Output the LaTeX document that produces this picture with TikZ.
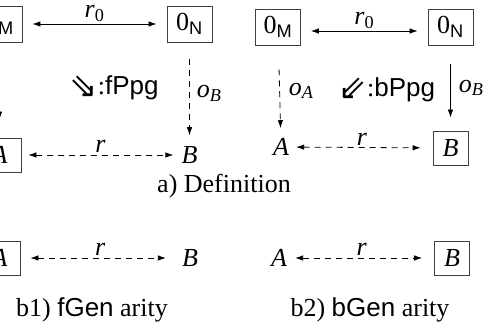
\documentclass[tikz,border=0pt]{standalone}
\usepackage{fontspec}
\setmainfont{Liberation Serif}
\setsansfont{Liberation Sans}
\newfontfamily\symfont{DejaVu Sans}
\usetikzlibrary{arrows.meta}
\newcommand\sbs[1]{\textsubscript{#1}}
\begin{document}
\begin{tikzpicture}[x=1pt,y=-1pt, font=\fontsize{26}{30}\selectfont,
  box/.style={draw=black!75, line width=0.8pt, inner sep=2pt, minimum width=45pt, minimum height=36pt},
  vbox/.style={draw=black!75, line width=0.8pt, inner sep=2pt, minimum width=35pt, minimum height=34pt},
  txt/.style={inner sep=2pt},
  lbl/.style={inner sep=1pt},
  arr/.style={line width=0.8pt, -{Latex[length=8pt,width=5.5pt]}},
  biarr/.style={line width=0.8pt, {Latex[length=8pt,width=5.5pt]}-{Latex[length=8pt,width=5.5pt]}},
  dsh/.style={dash pattern=on 6pt off 5pt}]
\useasboundingbox (0,0) rectangle (490,326);
% ---- a) left
\node[box] (mL) at (-0.5,24) {0\sbs{\sffamily M}};
\node[box] (nL) at (189.5,24) {0\sbs{\sffamily N}};
\node[vbox, minimum width=43pt] (AL) at (-0.5,155) {\itshape A};
\node[txt] (BL) at (189.5,155) {\itshape B};
\draw[biarr, shorten <=10pt, shorten >=10pt] (mL) -- (nL) node[midway, above=1pt, lbl] {\itshape r\sbs{\upshape 0}};
\draw[arr, shorten <=17pt, shorten >=18pt] (mL) -- (AL);
\draw[arr, dsh, shorten <=17pt, shorten >=9pt] (nL) -- (BL) node[midway, right=6pt, lbl] {\itshape o\sbs{B}};
\draw[biarr, dsh, shorten <=7pt, shorten >=6pt] (AL) -- (BL) node[midway, above=1pt, lbl] {\itshape r};
\node[txt] (fP) at (114,88) {\raisebox{-0.1em}{\scalebox{1.3}{\symfont ⇘}}:\textsf{fPpg}};
% ---- a) right
\node[box] (mR) at (278,27) {0\sbs{\sffamily M}};
\node[box] (nR) at (450.5,27) {0\sbs{\sffamily N}};
\node[txt] (AR) at (281,147) {\itshape A};
\node[vbox] (BR) at (450.5,148) {\itshape B};
\draw[biarr, shorten <=10pt, shorten >=10pt] ([yshift=-4pt]mR.east) -- ([yshift=-4pt]nR.west) node[midway, above=1pt, lbl] {\itshape r\sbs{\upshape 0}};
\draw[arr, dsh, shorten <=24pt, shorten >=8pt] (mR) -- (AR) node[midway, right=8pt, lbl] {\itshape o\sbs{A}};
\draw[arr, shorten <=19pt, shorten >=13pt] (nR) -- (BR) node[midway, right=7pt, lbl] {\itshape o\sbs{B}};
\draw[biarr, dsh, shorten <=5pt, shorten >=12pt] (AR) -- (BR) node[midway, above=1pt, lbl] {\itshape r};
\node[txt] (bP) at (387,90) {\raisebox{-0.1em}{\scalebox{1.3}{\symfont ⇙}}:\textsf{bPpg}};
\node[txt] (capA) at (224,186) {a) Definition};
% ---- b1
\node[vbox, minimum width=41pt] (AL2) at (-0.5,258) {\itshape A};
\node[txt] (BL2) at (190,258) {\itshape B};
\draw[biarr, dsh, shorten <=10pt, shorten >=14pt] (AL2) -- (BL2) node[midway, above=1pt, lbl] {\itshape r};
\node[txt] (capB1) at (92,310) {b1) \textsf{fGen} arity};
% ---- b2
\node[txt] (AR2) at (279,258) {\itshape A};
\node[vbox] (BR2) at (452,258) {\itshape B};
\draw[biarr, dsh, shorten <=6pt, shorten >=12pt] (AR2) -- (BR2) node[midway, above=1pt, lbl] {\itshape r};
\node[txt] (capB2) at (370,310) {b2) \textsf{bGen} arity};
\end{tikzpicture}
\end{document}
